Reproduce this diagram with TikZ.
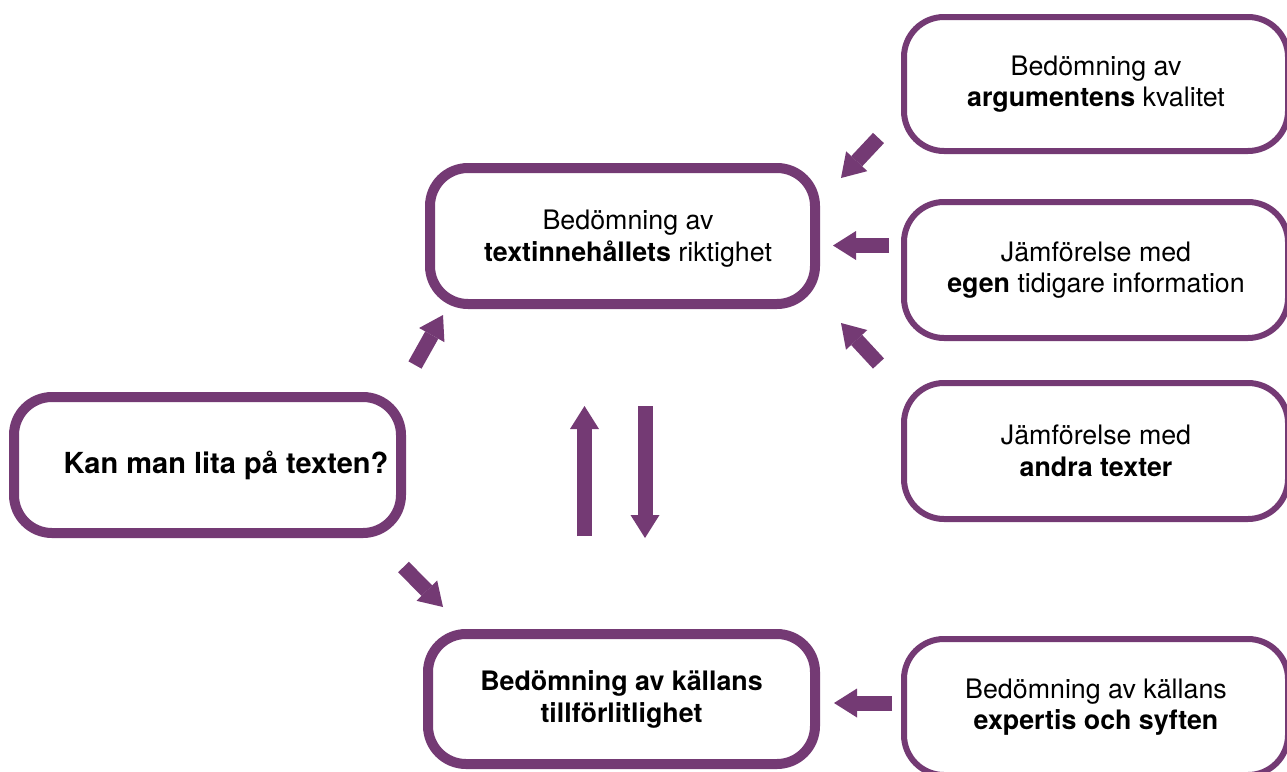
\documentclass[tikz,border=0pt]{standalone}
\usepackage{fontspec}
\setmainfont{TeX Gyre Heros}
\usetikzlibrary{arrows.meta}
\definecolor{lila}{RGB}{116,58,116}
\begin{document}
\begin{tikzpicture}[x=1pt,y=-1pt,
  mainbox/.style={draw=lila, line width=10pt, rounded corners=38pt, fill=white, align=center, inner sep=0pt,
    font=\fontsize{26.8}{32}\selectfont},
  sidebox/.style={draw=lila, line width=6pt, rounded corners=40pt, fill=white, align=center, inner sep=0pt,
    font=\fontsize{26.8}{31.5}\selectfont},
  boxtext/.style={align=center, inner sep=0pt, font=\fontsize{26.8}{32}\selectfont},
  blockarrow/.style={draw=lila, line width=15pt, -{Triangle[width=29pt,length=23pt,line width=0pt]}}
]
\useasboundingbox (0,0) rectangle (1287,771);
\fill[white] (0,0) rectangle (1287,771);

% main boxes
\node[mainbox, minimum width=387pt, minimum height=136pt] (q) at (207.5,465) {};
\node[boxtext, font=\fontsize{29}{34}\selectfont\bfseries] (qt) at (226,465) {Kan man lita på texten?};
\node[mainbox, minimum width=385pt, minimum height=136pt] (t) at (622.5,236) {};
\node[boxtext] (tt) at (628,239) {Bedömning av\\\textbf{textinnehållets} riktighet};
\node[mainbox, minimum width=387pt, minimum height=130pt] (k) at (621.5,699) {\textbf{Bedömning av källans}\\\textbf{tillförlitlighet}};

% side boxes
\node[sidebox, minimum width=384pt, minimum height=134pt] (s1) at (1096,84) {Bedömning av\\\textbf{argumentens} kvalitet};
\node[sidebox, minimum width=384pt, minimum height=136pt] (s2) at (1096,270) {Jämförelse med\\\textbf{egen} tidigare information};
\node[sidebox, minimum width=384pt, minimum height=136pt] (s3) at (1096,451) {Jämförelse med\\\textbf{andra texter}};
\node[sidebox, minimum width=384pt, minimum height=136pt] (s4) at (1096,707) {Bedömning av källans\\\textbf{expertis och syften}};

% arrow end points
\coordinate (a1s) at (415,365);   \coordinate (a1e) at (443,315);
\coordinate (a2s) at (403.5,567); \coordinate (a2e) at (443,607);
\coordinate (a3s) at (584.5,536); \coordinate (a3e) at (584.5,406);
\coordinate (a4s) at (645,406);   \coordinate (a4e) at (645,538);
\coordinate (a5s) at (878.5,138); \coordinate (a5e) at (841,178);
\coordinate (a6s) at (889,245.5); \coordinate (a6e) at (833,245.5);
\coordinate (a7s) at (878.5,363.5); \coordinate (a7e) at (841,323);
\coordinate (a8s) at (892,703);   \coordinate (a8e) at (834,703);

\draw[blockarrow] (a1s) -- (a1e);
\draw[blockarrow] (a2s) -- (a2e);
\draw[blockarrow] (a3s) -- (a3e);
\draw[blockarrow] (a4s) -- (a4e);
\draw[blockarrow] (a5s) -- (a5e);
\draw[blockarrow] (a6s) -- (a6e);
\draw[blockarrow] (a7s) -- (a7e);
\draw[blockarrow] (a8s) -- (a8e);
\end{tikzpicture}
\end{document}
